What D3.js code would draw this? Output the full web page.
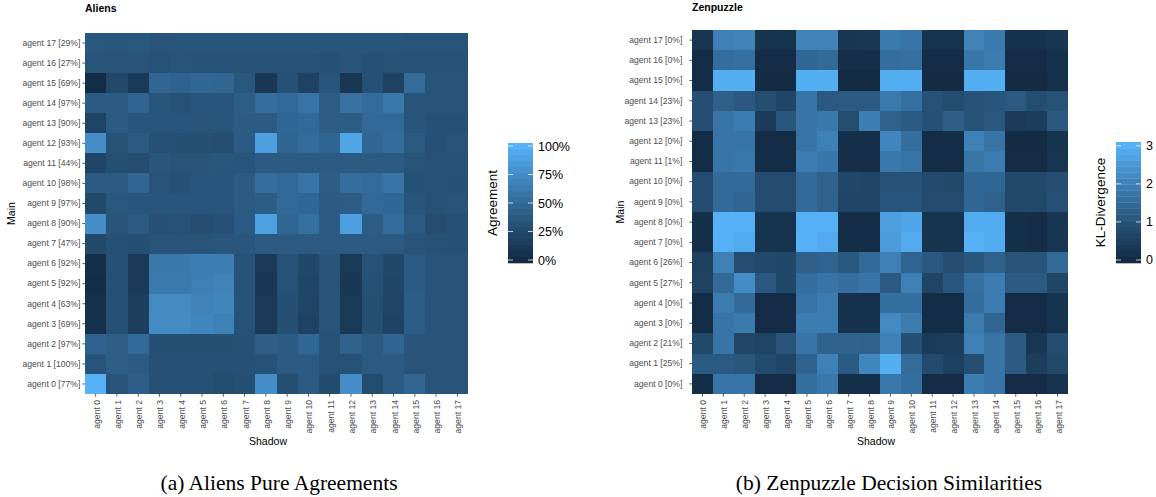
<!DOCTYPE html>
<html>
<head>
<meta charset="utf-8">
<script src="https://cdn.jsdelivr.net/npm/d3@7"></script>
<style>
  body { margin: 0; background: #fff; }
  text { font-family: "Liberation Sans", Arial, sans-serif; }
  .caption { font-family: "Liberation Serif", "Times New Roman", serif; }
</style>
</head>
<body>
<svg id="chart" width="1156" height="497"></svg>
<script>
// agent names, shared by both panels
var agentNames = ["agent 0", "agent 1", "agent 2", "agent 3", "agent 4", "agent 5",
	"agent 6", "agent 7", "agent 8", "agent 9", "agent 10", "agent 11",
	"agent 12", "agent 13", "agent 14", "agent 15", "agent 16", "agent 17"];

// percentage shown next to each main agent
var aliensShare = [77, 100, 97, 69, 63, 92, 92, 47, 90, 97, 98, 44, 93, 90, 97, 69, 27, 29];
var zenShare = [0, 25, 21, 0, 0, 27, 26, 0, 0, 0, 0, 1, 0, 23, 23, 0, 0, 0];

// Aliens agreement in %, row = main agent 0..17, column = shadow agent 0..17
var aliensAgreement = [
	[100, 33, 41, 30, 30, 30, 27, 29, 76, 29, 38, 26, 76, 27, 38, 47, 33, 33],
	[33, 41, 38, 30, 30, 30, 30, 30, 32, 38, 38, 32, 32, 38, 38, 33, 33, 33],
	[45, 41, 50, 29, 29, 29, 29, 30, 41, 38, 48, 32, 44, 38, 46, 33, 33, 33],
	[5, 30, 16, 74, 74, 71, 67, 32, 12, 29, 19, 33, 12, 29, 19, 40, 33, 33],
	[5, 30, 16, 73, 73, 68, 71, 32, 12, 29, 21, 33, 12, 29, 21, 40, 33, 33],
	[2, 30, 13, 61, 61, 66, 68, 32, 11, 32, 22, 33, 11, 31, 22, 39, 33, 33],
	[3, 30, 13, 60, 60, 65, 65, 32, 12, 32, 23, 33, 12, 32, 23, 39, 33, 33],
	[24, 30, 29, 33, 33, 33, 35, 35, 38, 38, 38, 38, 38, 38, 38, 33, 32, 31],
	[76, 33, 38, 30, 32, 28, 30, 39, 89, 47, 54, 39, 88, 40, 52, 38, 28, 31],
	[24, 36, 34, 34, 34, 34, 34, 38, 40, 49, 48, 39, 40, 49, 48, 34, 32, 33],
	[38, 38, 47, 33, 31, 34, 34, 38, 53, 49, 57, 40, 53, 51, 57, 31, 32, 31],
	[22, 29, 28, 35, 33, 33, 35, 34, 38, 38, 38, 38, 38, 38, 38, 33, 32, 32],
	[76, 32, 38, 31, 29, 29, 28, 39, 88, 46, 51, 46, 92, 47, 52, 38, 30, 33],
	[20, 38, 34, 34, 34, 33, 34, 38, 38, 48, 49, 40, 40, 49, 49, 34, 31, 31],
	[38, 38, 46, 34, 32, 34, 34, 41, 53, 49, 57, 40, 56, 51, 60, 33, 33, 33],
	[2, 24, 13, 47, 45, 48, 47, 36, 11, 31, 19, 34, 10, 31, 19, 51, 33, 33],
	[33, 33, 33, 32, 33, 32, 32, 32, 32, 32, 32, 31, 33, 31, 32, 32, 32, 32],
	[36, 35, 36, 33, 34, 34, 34, 34, 34, 34, 34, 34, 34, 34, 34, 33, 33, 33]
];

// Zenpuzzle KL-divergence, same layout
var zenDivergence = [
	[0.05, 1.75, 1.75, 0.03, 0.03, 1.62, 1.82, 0.1, 0.1, 1.82, 1.62, 0.03, 0.03, 1.92, 1.75, 0.03, 0.03, 0.22],
	[1.12, 1.12, 1.05, 0.8, 0.65, 1.35, 2.02, 1.12, 2.15, 2.95, 1.52, 0.8, 0.55, 0.85, 1.75, 1.12, 0.45, 0.72],
	[0.72, 1.72, 0.68, 0.6, 1.0, 1.75, 1.35, 1.35, 1.3, 2.02, 0.9, 0.42, 0.45, 2.0, 1.72, 1.15, 0.3, 0.82],
	[0.05, 1.75, 1.85, 0.03, 0.03, 1.92, 1.92, 0.15, 0.15, 2.2, 1.88, 0.05, 0.05, 1.88, 1.42, 0.03, 0.03, 0.22],
	[0.05, 1.92, 1.5, 0.03, 0.03, 1.75, 1.9, 0.15, 0.15, 1.62, 1.62, 0.05, 0.05, 1.58, 1.9, 0.03, 0.03, 0.22],
	[0.58, 1.5, 2.25, 1.1, 0.7, 1.62, 1.75, 1.62, 1.72, 1.15, 2.0, 0.62, 1.05, 1.65, 1.9, 1.15, 1.15, 0.65],
	[0.55, 2.0, 0.85, 0.75, 0.7, 1.28, 1.38, 1.1, 1.5, 2.0, 1.38, 1.1, 0.85, 1.05, 1.33, 1.0, 1.0, 1.48],
	[0.12, 3.0, 2.9, 0.22, 0.22, 3.02, 2.88, 0.05, 0.05, 2.55, 2.88, 0.22, 0.22, 3.02, 2.92, 0.12, 0.08, 0.26],
	[0.12, 3.02, 3.0, 0.22, 0.22, 3.0, 3.0, 0.06, 0.06, 2.65, 2.8, 0.22, 0.22, 2.9, 2.9, 0.12, 0.08, 0.26],
	[0.82, 1.5, 1.42, 0.82, 0.82, 1.5, 1.33, 0.65, 0.65, 1.02, 1.02, 0.82, 0.82, 1.45, 1.3, 0.72, 0.72, 0.92],
	[0.82, 1.5, 1.5, 0.82, 0.82, 1.5, 1.33, 0.7, 0.65, 0.95, 0.95, 0.8, 0.72, 1.45, 1.45, 0.72, 0.72, 0.87],
	[0.05, 1.75, 1.82, 0.05, 0.05, 1.9, 1.8, 0.1, 0.1, 1.82, 1.75, 0.05, 0.05, 1.78, 1.9, 0.03, 0.03, 0.24],
	[0.05, 1.75, 1.75, 0.03, 0.03, 1.75, 2.02, 0.1, 0.1, 2.15, 1.6, 0.05, 0.05, 2.02, 1.72, 0.02, 0.02, 0.22],
	[0.87, 1.75, 1.92, 0.4, 1.05, 1.75, 1.82, 0.85, 1.98, 1.3, 1.15, 0.92, 1.25, 0.95, 1.07, 0.4, 0.45, 1.1],
	[0.87, 1.28, 1.1, 0.87, 0.65, 1.75, 1.1, 1.12, 1.13, 1.83, 1.65, 0.95, 0.82, 0.95, 1.02, 1.12, 0.85, 0.95],
	[0.05, 2.95, 2.95, 0.02, 0.02, 2.95, 2.95, 0.02, 0.02, 2.95, 2.95, 0.02, 0.02, 2.95, 2.95, 0.02, 0.02, 0.15],
	[0.05, 1.6, 1.65, 0.03, 0.03, 1.45, 1.5, 0.1, 0.1, 1.6, 1.65, 0.03, 0.03, 1.8, 1.9, 0.03, 0.03, 0.15],
	[0.24, 2.0, 2.05, 0.22, 0.22, 2.05, 2.05, 0.24, 0.3, 1.85, 1.75, 0.22, 0.22, 2.05, 1.85, 0.15, 0.15, 0.27]
];

var aliensTicks = [0, 25, 50, 75, 100];
var zenTicks = [0, 1, 2, 3];

var svg = d3.select("#chart");

function drawPanel(cfg){
	var x = d3.scaleBand().domain(agentNames).range([cfg.x0, cfg.x1]);
	var y = d3.scaleBand().domain(agentNames.slice().reverse()).range([cfg.y0, cfg.y1]);
	var color = d3.scaleLinear().domain(cfg.domain).range(["#132B43", "#56B1F7"])
		.interpolate(d3.interpolateLab).clamp(true);

	var cells = [];
	cfg.data.forEach(function(row, i){
		row.forEach(function(v, j){
			cells.push({main: agentNames[i], shadow: agentNames[j], value: v});
		});
	});

	var g = svg.append("g");

	// cells snapped to whole pixels so no seams show between them
	g.selectAll("rect.cell")
		.data(cells)
		.enter().append("rect")
		.attr("class", "cell")
		.attr("shape-rendering", "crispEdges")
		.attr("x", function(d){ return Math.round(x(d.shadow)); })
		.attr("y", function(d){ return Math.round(y(d.main)); })
		.attr("width", function(d){ return Math.round(x(d.shadow) + x.bandwidth()) - Math.round(x(d.shadow)); })
		.attr("height", function(d){ return Math.round(y(d.main) + y.bandwidth()) - Math.round(y(d.main)); })
		.attr("fill", function(d){ return color(d.value); });

	var rowLabel = {};
	agentNames.forEach(function(a, i){ rowLabel[a] = a + " [" + cfg.share[i] + "%]"; });

	var yAxis = g.append("g")
		.attr("transform", "translate(" + cfg.x0 + ",0)")
		.call(d3.axisLeft(y).tickSize(2.7).tickPadding(cfg.yPad).tickFormat(function(d){ return rowLabel[d]; }));
	yAxis.select(".domain").remove();
	yAxis.selectAll("line").attr("stroke", "#333").attr("stroke-width", 0.8);
	yAxis.selectAll("text").attr("fill", "#4D4D4D").style("font-size", "8.6px")
		.style("font-family", "Liberation Sans, Arial, sans-serif");

	var xAxis = g.append("g")
		.attr("transform", "translate(0," + cfg.y1 + ")")
		.call(d3.axisBottom(x).tickSize(2.7));
	xAxis.select(".domain").remove();
	xAxis.selectAll("line").attr("stroke", "#333").attr("stroke-width", 0.8);
	xAxis.selectAll("text")
		.attr("fill", "#4D4D4D")
		.style("font-size", "8.6px")
		.style("font-family", "Liberation Sans, Arial, sans-serif")
		.attr("text-anchor", "end")
		.attr("transform", "rotate(-90)")
		.attr("x", -6)
		.attr("y", 1)
		.attr("dy", "0.35em");

	g.append("text")
		.attr("x", cfg.x0).attr("y", cfg.titleY)
		.style("font-size", "10.5px").style("font-weight", "bold")
		.text(cfg.title);

	g.append("text")
		.attr("transform", "translate(" + cfg.mainX + "," + ((cfg.y0 + cfg.y1) / 2) + ") rotate(-90)")
		.attr("text-anchor", "middle")
		.style("font-size", "10.5px")
		.text("Main");

	g.append("text")
		.attr("x", cfg.shadowX).attr("y", 445)
		.attr("text-anchor", "middle")
		.style("font-size", "10.5px")
		.text("Shadow");

	// colour bar, 20 bins like ggplot
	var lg = cfg.legend;
	var bins = 20, binH = (lg.y1 - lg.y0) / bins;
	var ly = d3.scaleLinear().domain(cfg.domain).range([lg.y1 - binH / 2, lg.y0 + binH / 2]);
	var binVals = d3.range(bins).map(function(i){
		return cfg.domain[0] + (cfg.domain[1] - cfg.domain[0]) * i / (bins - 1);
	});
	g.selectAll("rect.bin")
		.data(binVals)
		.enter().append("rect")
		.attr("class", "bin")
		.attr("x", lg.x)
		.attr("y", function(d, i){ return lg.y1 - (i + 1) * binH; })
		.attr("width", lg.w)
		.attr("height", binH + 0.3)
		.attr("fill", function(d){ return color(d); });

	var tk = g.selectAll("g.ltick")
		.data(lg.ticks)
		.enter().append("g")
		.attr("class", "ltick")
		.attr("transform", function(d){ return "translate(0," + ly(d) + ")"; });
	tk.append("line").attr("x1", lg.x).attr("x2", lg.x + 5)
		.attr("stroke", "#fff").attr("stroke-width", 0.9).attr("opacity", 0.8);
	tk.append("line").attr("x1", lg.x + lg.w - 5).attr("x2", lg.x + lg.w)
		.attr("stroke", "#fff").attr("stroke-width", 0.9).attr("opacity", 0.8);
	tk.append("text")
		.attr("x", lg.x + lg.w + 5)
		.attr("dy", "0.36em")
		.style("font-size", "12.5px")
		.text(lg.format);

	g.append("text")
		.attr("transform", "translate(" + lg.titleX + "," + ((lg.y0 + lg.y1) / 2) + ") rotate(-90)")
		.attr("text-anchor", "middle")
		.style("font-size", "13.5px")
		.text(lg.title);

	g.append("text")
		.attr("class", "caption")
		.attr("x", cfg.captionX).attr("y", 490)
		.attr("text-anchor", "middle")
		.style("font-size", "21.5px")
		.style("font-family", "Liberation Serif, Times New Roman, serif")
		.text(cfg.caption);
}

drawPanel({
	title: "Aliens", titleY: 12.3,
	data: aliensAgreement, share: aliensShare,
	domain: [0, 100],
	x0: 85, x1: 468, y0: 33, y1: 394,
	yPad: 2, mainX: 15, shadowX: 268,
	legend: {x: 508, w: 25, y0: 143, y1: 263, ticks: aliensTicks, titleX: 497,
		title: "Agreement", format: function(d){ return d + "%"; }},
	caption: "(a) Aliens Pure Agreements", captionX: 279
});

drawPanel({
	title: "Zenpuzzle", titleY: 10.5,
	data: zenDivergence, share: zenShare,
	domain: [0, 3.02],
	x0: 692, x1: 1068, y0: 30, y1: 394,
	yPad: 7, mainX: 624, shadowX: 876,
	legend: {x: 1116, w: 25, y0: 142, y1: 263, ticks: zenTicks, titleX: 1105,
		title: "KL-Divergence", format: function(d){ return d; }},
	caption: "(b) Zenpuzzle Decision Similarities", captionX: 889
});
</script>
</body>
</html>
